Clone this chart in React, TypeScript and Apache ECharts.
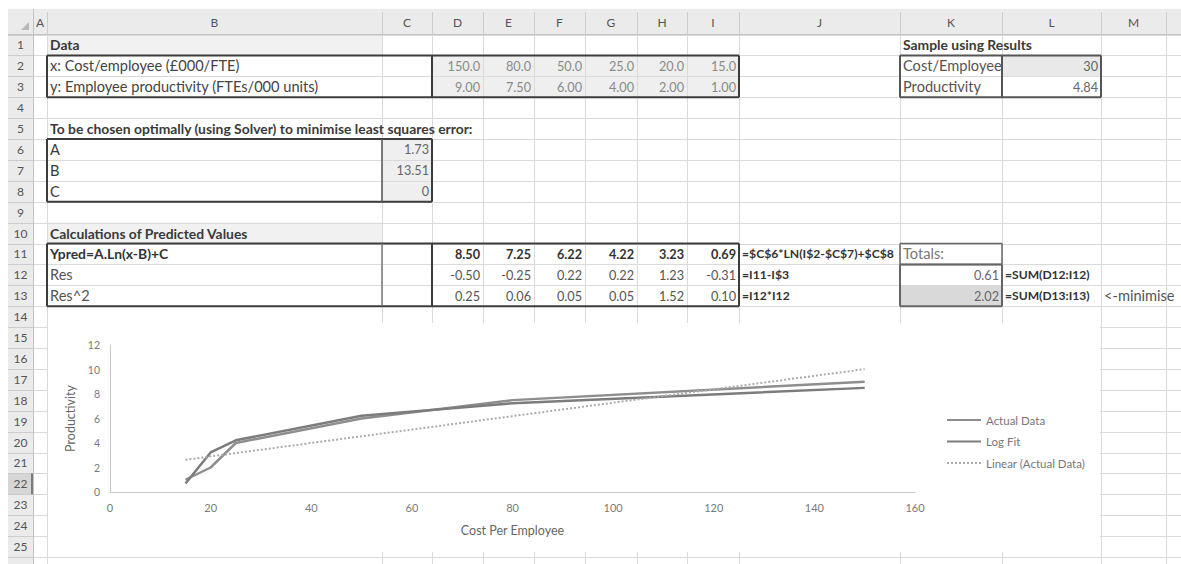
import React, { useEffect, useRef } from "react";
import * as echarts from "echarts";

// ---------- data ----------
const costPerEmployee = [150, 80, 50, 25, 20, 15];
const productivity = [9.0, 7.5, 6.0, 4.0, 2.0, 1.0];
const logFit = [8.5, 7.25, 6.22, 4.22, 3.23, 0.69];
const residuals = [-0.5, -0.25, 0.22, 0.22, 1.23, -0.31];
const residualsSq = [0.25, 0.06, 0.05, 0.05, 1.52, 0.1];
const linearTrendX = [15, 150];
const linearTrendY = [2.63, 10.03];

const paramNames = ["A", "B", "C"];
const paramValues = ["1.73", "13.51", "0"];
const dataLabels = ["x: Cost/employee (£000/FTE)", "y: Employee productivity (FTEs/000 units)"];
const calcLabels = ["Ypred=A.Ln(x-B)+C", "Res", "Res^2"];
const calcFormulas = ["=$C$6*LN(I$2-$C$7)+$C$8", "=I11-I$3", "=I12*I12"];
const sampleLabels = ["Cost/Employee", "Productivity"];
const sampleValues = ["30", "4.84"];
const totalValues = ["0.61", "2.02"];
const totalFormulas = ["=SUM(D12:I12)", "=SUM(D13:I13)"];
const columnLetters = ["A", "B", "C", "D", "E", "F", "G", "H", "I", "J", "K", "L", "M"];

// ---------- sheet geometry ----------
const W = 1181;
const H = 564;
const colEdges = [33, 47, 382, 432, 483, 534, 585, 637, 687, 739, 900, 1002, 1101, 1166, 1240];
const ROW0 = 34.5;
const ROW_H = 20.9;
const rt = (r: number) => ROW0 + (r - 1) * ROW_H;
const ci = (letter: string) => columnLetters.indexOf(letter);
const FONT = "Lato, 'Open Sans', sans-serif";
const LABEL = 14.6;
const BOLD = 13.9;
const NUM = 12.7;

function buildSheet() {
  const els: any[] = [];
  const rect = (x: number, y: number, w: number, h: number, fill: string) =>
    els.push({ type: "rect", silent: true, shape: { x, y, width: w, height: h }, style: { fill } });
  const line = (x1: number, y1: number, x2: number, y2: number, stroke: string, lw = 1) =>
    els.push({ type: "line", silent: true, shape: { x1, y1, x2, y2 }, style: { stroke, lineWidth: lw } });
  const text = (x: number, y: number, t: string, o: any = {}) =>
    els.push({
      type: "text",
      silent: true,
      style: {
        text: t,
        x,
        y,
        fill: o.color || "#3a3a3a",
        fontSize: o.size || LABEL,
        fontWeight: o.bold ? "bold" : "normal",
        fontFamily: FONT,
        align: o.align || "left",
        textAlign: o.align || "left",
        verticalAlign: "middle",
        textVerticalAlign: "middle",
      },
    });
  const cell = (col: string, row: number, t: string, o: any = {}) => {
    const i = ci(col);
    const y = rt(row) + ROW_H / 2;
    if (o.align === "right") text(colEdges[i + 1] - 3, y, t, o);
    else text(colEdges[i] + 3, y, t, o);
  };
  const fillCells = (c1: string, r1: number, c2: string, r2: number, fill: string) => {
    const x1 = colEdges[ci(c1)];
    const x2 = colEdges[ci(c2) + 1];
    rect(x1, rt(r1), x2 - x1, rt(r2 + 1) - rt(r1), fill);
  };
  const box = (c1: string, r1: number, c2: string, r2: number, stroke = "#3c3c3c", lw = 2) => {
    const x1 = colEdges[ci(c1)];
    const x2 = colEdges[ci(c2) + 1];
    const y1 = rt(r1);
    const y2 = rt(r2 + 1);
    line(x1, y1, x2, y1, stroke, lw);
    line(x1, y2, x2, y2, stroke, lw);
    line(x1, y1, x1, y2, stroke, lw);
    line(x2, y1, x2, y2, stroke, lw);
  };

  rect(0, 0, W, H, "#ffffff");
  // headers
  rect(8, 9, W - 8, ROW0 - 9, "#ebebeb");
  rect(8, ROW0, 25, H - ROW0, "#ebebeb");
  rect(8, rt(22), 25, ROW_H, "#d6d6d6");
  els.push({
    type: "polygon",
    silent: true,
    shape: { points: [[29, 22], [29, 30], [21, 30]] },
    style: { fill: "#b8b8b8" },
  });

  // cell fills
  fillCells("B", 1, "B", 1, "#f1f1f1");
  fillCells("B", 10, "B", 10, "#f1f1f1");
  fillCells("D", 2, "I", 3, "#efefef");
  fillCells("C", 6, "C", 8, "#efefef");
  fillCells("K", 13, "K", 13, "#d9d9d9");

  // gridlines
  for (let i = 1; i < colEdges.length; i++) {
    const x = Math.round(colEdges[i]) + 0.5;
    line(x, ROW0, x, H, "#dadada");
    line(x, 12, x, ROW0, "#cdcdcd");
  }
  for (let r = 1; r <= 26; r++) {
    const y = Math.round(rt(r)) + 0.5;
    line(33, y, W, y, "#dadada");
    line(8, y, 33, y, "#cdcdcd");
  }
  line(8, ROW0, W, ROW0, "#c4c4c4");
  line(33.5, 9, 33.5, H, "#c4c4c4");
  line(32, rt(22), 32, rt(23), "#7a7a7a", 2);

  // header labels
  columnLetters.forEach((L, i) => {
    text((colEdges[i] + colEdges[i + 1]) / 2, 22, L, { align: "center", color: "#555", size: 12 });
  });
  for (let r = 1; r <= 25; r++) {
    text(20.5, rt(r) + ROW_H / 2, String(r), { align: "center", color: "#555", size: 12 });
  }

  // texts
  cell("B", 1, "Data", { bold: true, size: BOLD });
  dataLabels.forEach((t, k) => cell("B", 2 + k, t, { color: "#444" }));
  const dataCols = ["D", "E", "F", "G", "H", "I"];
  costPerEmployee.forEach((v, k) =>
    cell(dataCols[k], 2, v.toFixed(1), { align: "right", color: "#8a8a8a", size: NUM })
  );
  productivity.forEach((v, k) =>
    cell(dataCols[k], 3, v.toFixed(2), { align: "right", color: "#8a8a8a", size: NUM })
  );

  cell("B", 5, "To be chosen optimally (using Solver) to minimise least squares error:", { bold: true, size: BOLD });
  paramNames.forEach((t, k) => cell("B", 6 + k, t));
  paramValues.forEach((t, k) => cell("C", 6 + k, t, { align: "right", color: "#666", size: NUM }));

  cell("B", 10, "Calculations of Predicted Values", { bold: true, size: BOLD });
  calcLabels.forEach((t, k) =>
    cell("B", 11 + k, t, { bold: k === 0, size: k === 0 ? BOLD : LABEL, color: k === 0 ? "#333" : "#555" })
  );
  logFit.forEach((v, k) => cell(dataCols[k], 11, v.toFixed(2), { align: "right", bold: true, color: "#333", size: NUM }));
  residuals.forEach((v, k) => cell(dataCols[k], 12, v.toFixed(2), { align: "right", color: "#555", size: NUM }));
  residualsSq.forEach((v, k) => cell(dataCols[k], 13, v.toFixed(2), { align: "right", color: "#555", size: NUM }));
  calcFormulas.forEach((t, k) => cell("J", 11 + k, t, { bold: true, size: 12.2, color: "#333" }));

  cell("K", 1, "Sample using Results", { bold: true, size: BOLD });
  sampleLabels.forEach((t, k) => cell("K", 2 + k, t, { color: "#555" }));
  fillCells("L", 2, "L", 2, "#e9e9e9");
  sampleValues.forEach((t, k) => cell("L", 2 + k, t, { align: "right", color: "#666", size: NUM }));

  cell("K", 11, "Totals:", { color: "#777" });
  totalValues.forEach((t, k) => cell("K", 12 + k, t, { align: "right", color: "#666", size: NUM }));
  totalFormulas.forEach((t, k) => cell("L", 12 + k, t, { bold: true, size: 12.1, color: "#333" }));
  cell("M", 13, "<-minimise", { color: "#555" });

  // borders
  box("B", 2, "I", 3);
  line(colEdges[ci("D")], rt(2), colEdges[ci("D")], rt(4), "#3c3c3c", 2);
  box("B", 6, "C", 8);
  line(colEdges[ci("C")], rt(6), colEdges[ci("C")], rt(9), "#555", 1.5);
  box("B", 11, "I", 13);
  line(colEdges[ci("C")], rt(11), colEdges[ci("C")], rt(14), "#777", 1.5);
  line(colEdges[ci("D")], rt(11), colEdges[ci("D")], rt(14), "#3c3c3c", 2);
  box("K", 2, "L", 3, "#555", 2);
  line(colEdges[ci("L")], rt(2), colEdges[ci("L")], rt(4), "#555", 2);
  box("K", 11, "K", 11, "#666", 1.5);
  box("K", 12, "K", 13, "#666", 2);

  return els;
}

// chart box on the sheet
const CH_X = 48;
const CH_Y = 323;
const CH_W = 1052;
const CH_H = 229;

export default function App() {
  const sheetRef = useRef<HTMLDivElement>(null);
  const chartRef = useRef<HTMLDivElement>(null);

  useEffect(() => {
    document.body.style.margin = "0";
    const sheet = echarts.init(sheetRef.current!, undefined, { renderer: "svg" });
    sheet.setOption({ animation: false, graphic: { elements: buildSheet() } });

    const chart = echarts.init(chartRef.current!, undefined, { renderer: "svg" });
    const axisLine = { show: true, lineStyle: { color: "#c9c9c9", width: 1 } };
    chart.setOption({
      animation: false,
      backgroundColor: "#ffffff",
      textStyle: { fontFamily: FONT },
      grid: { left: 110 - CH_X, top: 345 - CH_Y, width: 805, height: 147 },
      xAxis: {
        type: "value",
        min: 0,
        max: 160,
        interval: 20,
        axisLine,
        axisTick: { show: false },
        splitLine: { show: false },
        axisLabel: { color: "#7a7a7a", fontSize: 11, margin: 10 },
        name: "Cost Per Employee",
        nameLocation: "middle",
        nameGap: 32,
        nameTextStyle: { color: "#666", fontSize: 12.5 },
      },
      yAxis: {
        type: "value",
        min: 0,
        max: 12,
        interval: 2,
        axisLine,
        axisTick: { show: false },
        splitLine: { show: false },
        axisLabel: { color: "#7a7a7a", fontSize: 10.5, margin: 10 },
        name: "Productivity",
        nameLocation: "middle",
        nameRotate: 90,
        nameGap: 29,
        nameTextStyle: { color: "#666", fontSize: 12.5 },
      },
      legend: {
        orient: "vertical",
        left: 893 - 0 - 0,
        top: 86,
        itemWidth: 34,
        itemHeight: 14,
        itemGap: 9.5,
        itemStyle: { color: "rgba(0,0,0,0)", borderWidth: 0, opacity: 0 },
        textStyle: { color: "#777", fontSize: 11.5 },
        data: ["Actual Data", "Log Fit", "Linear (Actual Data)"],
      },
      series: [
        {
          name: "Actual Data",
          type: "line",
          symbol: "none",
          data: costPerEmployee.map((x, i) => [x, productivity[i]]),
          lineStyle: { color: "#8e8e8e", width: 2.5 },
          itemStyle: { color: "#8e8e8e" },
        },
        {
          name: "Log Fit",
          type: "line",
          symbol: "none",
          data: costPerEmployee.map((x, i) => [x, logFit[i]]),
          lineStyle: { color: "#7c7c7c", width: 2.5 },
          itemStyle: { color: "#7c7c7c" },
        },
        {
          name: "Linear (Actual Data)",
          type: "line",
          symbol: "none",
          data: linearTrendX.map((x, i) => [x, linearTrendY[i]]),
          lineStyle: { color: "#ababab", width: 2, type: "dotted" },
          itemStyle: { color: "#ababab" },
        },
      ],
    });
    return () => {
      sheet.dispose();
      chart.dispose();
    };
  }, []);

  return (
    <>
      <div ref={sheetRef} style={{ position: "absolute", left: 0, top: 0, width: W, height: H }} />
      <div
        ref={chartRef}
        style={{ position: "absolute", left: CH_X, top: CH_Y, width: CH_W, height: CH_H }}
      />
    </>
  );
}
